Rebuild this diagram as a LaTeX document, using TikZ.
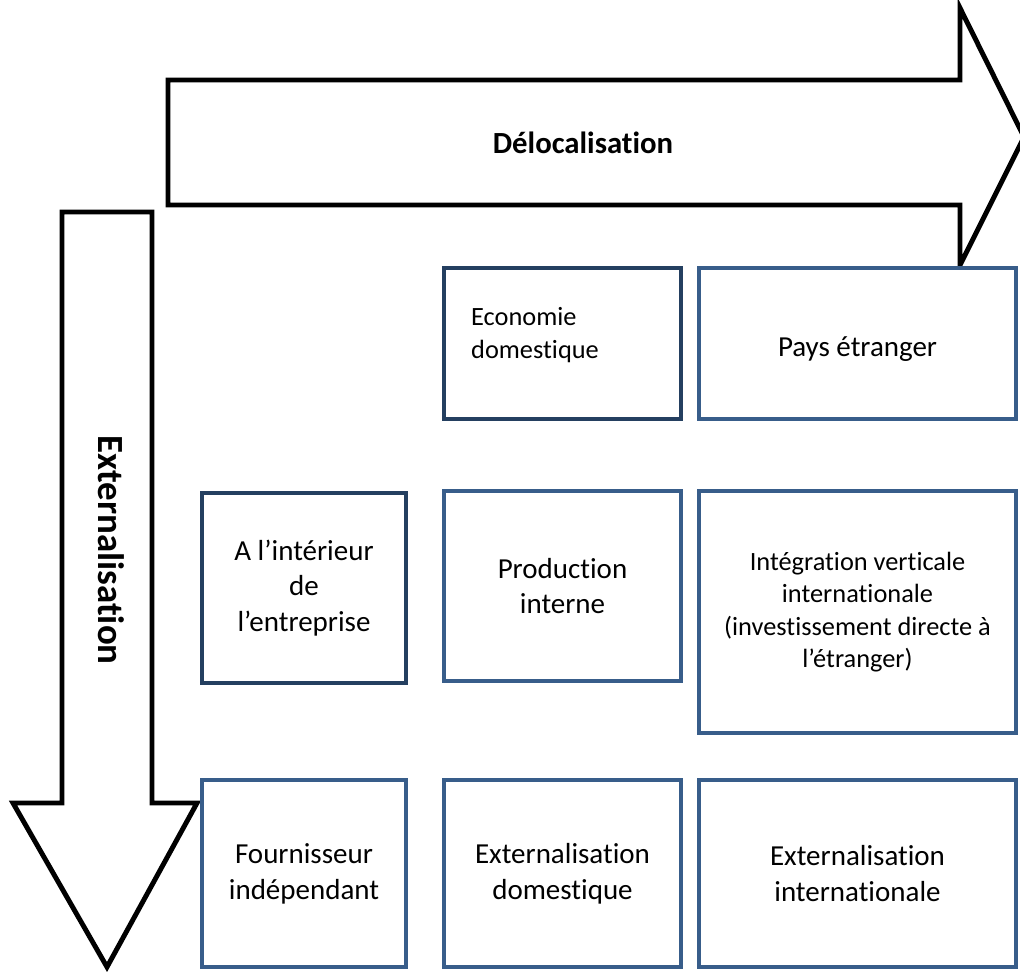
\documentclass[tikz,border=0pt]{standalone}
\usepackage{fontspec}
\setmainfont{Carlito}[RawFeature=-liga]
\usepackage{tikz}

\definecolor{boxdark}{HTML}{243F60}
\definecolor{boxblue}{HTML}{385D8A}

\tikzset{
    bigarrow/.style={draw=black, line width=2.8pt, fill=white, line join=miter},
    cell/.style={draw=boxblue, line width=2.3pt, fill=white, align=center,
        font=\fontsize{16.5}{20.4}\selectfont},
    celldark/.style={cell, draw=boxdark},
    smalltext/.style={font=\fontsize{15}{18.4}\selectfont, align=center}
}

\begin{document}
\begin{tikzpicture}[x=0.02cm, y=-0.02cm]
        \useasboundingbox (0,0) rectangle (1020,971);

        % les deux fleches
        \draw[bigarrow] (168,80) -- (960,80) -- (960,8) -- (1024,137) -- (960,265) -- (960,205) -- (168,205) -- cycle;
        \draw[bigarrow] (62,212) -- (152,212) -- (152,803) -- (197,803) -- (107,967) -- (13,803) -- (62,803) -- cycle;

        \node[font=\fontsize{17.5}{21}\selectfont\bfseries] (deloc) at (583,143) {Délocalisation};
        \node[font=\fontsize{21}{25}\selectfont\bfseries, rotate=-90] (extern) at (111,550) {Externalisation};

        % ligne du haut
        \node[celldark, minimum width=237*0.02cm, minimum height=151*0.02cm] (eco) at (562.5,343.5) {};
        \node[smalltext, anchor=west, align=left] (ecotext) at (465,335) {Economie\\domestique};
        \node[cell, minimum width=317*0.02cm, minimum height=151*0.02cm] (pays) at (857.5,343.5) {};
        \node[font=\fontsize{16.5}{20.4}\selectfont] (paystext) at (857.5,349) {Pays étranger};

        % ligne du milieu
        \node[celldark, minimum width=204*0.02cm, minimum height=190*0.02cm] (interieur) at (304,588) {A l’intérieur\\de\\l’entreprise};
        \node[cell, minimum width=237*0.02cm, minimum height=190*0.02cm] (prodint) at (562.5,586) {Production\\interne};
        \node[cell, smalltext, minimum width=317*0.02cm, minimum height=242*0.02cm] (integ) at (857.5,612) {Intégration verticale\\internationale\\(investissement directe à\\l’étranger)};

        % ligne du bas
        \node[cell, minimum width=204*0.02cm, minimum height=187*0.02cm] (fourn) at (304,873.5) {Fournisseur\\indépendant};
        \node[cell, minimum width=237*0.02cm, minimum height=187*0.02cm] (extdom) at (562.5,873.5) {Externalisation\\domestique};
        \node[cell, minimum width=317*0.02cm, minimum height=187*0.02cm] (extint) at (857.5,873.5) {Externalisation\\internationale};
    \end{tikzpicture}
\end{document}
